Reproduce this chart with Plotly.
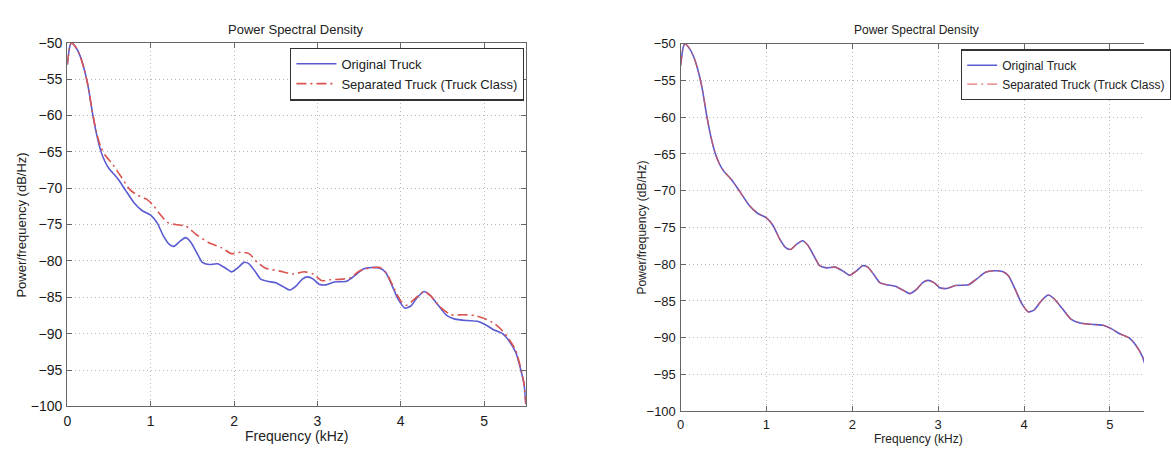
import plotly.graph_objects as go

# ---------------- data ----------------
freq_orig = [0.00, 0.03, 0.05, 0.10, 0.15, 0.20, 0.25, 0.30, 0.35, 0.40, 0.45, 0.50,
             0.60, 0.70, 0.80, 0.90, 1.00, 1.08, 1.15, 1.22, 1.28, 1.35, 1.42, 1.48,
             1.55, 1.62, 1.70, 1.80, 1.90, 1.97, 2.05, 2.12, 2.18, 2.25, 2.32, 2.40,
             2.50, 2.60, 2.67, 2.75, 2.82, 2.88, 2.95, 3.02, 3.10, 3.20, 3.35, 3.45,
             3.55, 3.65, 3.75, 3.82, 3.90, 3.97, 4.05, 4.12, 4.20, 4.28, 4.35, 4.45,
             4.55, 4.65, 4.80, 4.92, 5.02, 5.12, 5.22, 5.30, 5.38, 5.44, 5.48, 5.50]
psd_orig = [-53.0, -50.5, -50.0, -50.6, -51.7, -53.5, -56.0, -59.5, -62.5, -64.8, -66.3, -67.3,
            -68.6, -70.3, -72.0, -73.1, -73.7, -74.8, -76.5, -77.7, -78.0, -77.3, -76.8, -77.4,
            -78.8, -80.2, -80.5, -80.4, -81.0, -81.5, -80.9, -80.2, -80.4, -81.4, -82.5, -82.8,
            -83.0, -83.6, -84.0, -83.4, -82.5, -82.2, -82.5, -83.2, -83.3, -82.9, -82.8, -82.0,
            -81.1, -80.9, -81.0, -81.6, -83.5, -85.3, -86.5, -86.2, -85.0, -84.2, -84.7, -86.1,
            -87.5, -88.0, -88.2, -88.3, -88.8, -89.5, -90.0, -91.0, -92.6, -95.0, -97.0, -99.7]

freq_sep = [0.00, 0.03, 0.05, 0.10, 0.15, 0.20, 0.25, 0.30, 0.35, 0.40, 0.45, 0.55,
            0.65, 0.75, 0.85, 0.95, 1.02, 1.10, 1.20, 1.30, 1.42, 1.55, 1.70, 1.85,
            1.97, 2.08, 2.18, 2.28, 2.38, 2.55, 2.70, 2.85, 2.95, 3.05, 3.15, 3.30,
            3.40, 3.50, 3.62, 3.75, 3.83, 3.92, 4.00, 4.07, 4.15, 4.28, 4.36, 4.47,
            4.60, 4.75, 4.88, 5.00, 5.12, 5.22, 5.30, 5.38, 5.44, 5.48, 5.50]
psd_sep = [-53.0, -50.5, -50.0, -50.6, -51.7, -53.5, -56.0, -59.5, -62.3, -64.3, -65.4, -66.8,
           -68.5, -70.2, -71.0, -71.5, -72.2, -73.4, -74.7, -75.0, -75.2, -76.4, -77.5, -78.2,
           -79.0, -78.8, -79.0, -80.2, -81.0, -81.4, -81.8, -81.5, -81.8, -82.7, -82.6, -82.5,
           -82.3, -81.4, -81.0, -80.9, -81.7, -83.8, -85.5, -86.1, -85.4, -84.2, -84.8, -86.3,
           -87.4, -87.4, -87.5, -87.9, -88.6, -89.6, -90.8, -92.3, -94.8, -97.0, -99.7]

# right panel: separated curve coincides with the original
freq_right = freq_orig
psd_right_orig = psd_orig
psd_right_sep = psd_orig

series_names = ["Original Truck", "Separated Truck (Truck Class)"]
x_ticks = [0, 1, 2, 3, 4, 5]
y_ticks = [-100, -95, -90, -85, -80, -75, -70, -65, -60, -55, -50]

BLUE = "#5a5ad2"
RED = "#d9544f"
FONT = "Liberation Sans, Arial, Helvetica, sans-serif"
W, H = 1171, 452

fig = go.Figure()

# left panel
fig.add_trace(go.Scatter(x=freq_orig, y=psd_orig, mode="lines", name=series_names[0],
                         line=dict(color=BLUE, width=1.6, shape="spline", smoothing=0.6),
                         xaxis="x", yaxis="y", legend="legend"))
fig.add_trace(go.Scatter(x=freq_sep, y=psd_sep, mode="lines", name=series_names[1],
                         line=dict(color=RED, width=1.6, dash="10px,4px,2px,4px",
                                   shape="spline", smoothing=0.6),
                         xaxis="x", yaxis="y", legend="legend"))
# right panel
fig.add_trace(go.Scatter(x=freq_right, y=psd_right_orig, mode="lines", name=series_names[0],
                         line=dict(color=BLUE, width=1.6, shape="spline", smoothing=0.6),
                         xaxis="x2", yaxis="y2", legend="legend2"))
fig.add_trace(go.Scatter(x=freq_right, y=psd_right_sep, mode="lines", name=series_names[1],
                         line=dict(color=RED, width=1.2, dash="10px,4px,2px,4px",
                                   shape="spline", smoothing=0.6),
                         xaxis="x2", yaxis="y2", legend="legend2", opacity=0.8))

def px_x(p):
    return p / W

def px_y(p):
    return 1 - p / H

axis_common = dict(showline=True, linecolor="#666666", linewidth=1.3,
                   ticks="inside", ticklen=5, tickcolor="#666666",
                   showgrid=True, gridcolor="#b8b8b8", griddash="1px,3px", gridwidth=1.2,
                   zeroline=False, color="#1a1a1a")

# left axes: x0 at 65 px, 5.5 at 536 px; y top 36, bottom 413
fig.update_layout(
    xaxis=dict(axis_common, domain=[px_x(65), px_x(536)], range=[0, 5.5],
               tickvals=x_ticks, mirror="ticks", anchor="y", ticklabelstandoff=2,
               tickfont=dict(size=14, family=FONT)),
    yaxis=dict(axis_common, domain=[px_y(413), px_y(36)], range=[-100, -50],
               tickvals=y_ticks, mirror="ticks", anchor="x", ticklabelstandoff=1,
               tickfont=dict(size=14, family=FONT)),
    # right axes: x0 at 695 px, 88.2 px per kHz; y top 37, bottom 418
    xaxis2=dict(axis_common, domain=[px_x(695), 1.0], range=[0, (W - 695) / 88.2],
                tickvals=x_ticks, mirror="ticks", anchor="y2", ticklabelstandoff=1,
                tickfont=dict(size=13, family=FONT)),
    yaxis2=dict(axis_common, domain=[px_y(418), px_y(37)], range=[-100, -50],
                tickvals=y_ticks, mirror=False, anchor="x2", ticklabelstandoff=1,
                tickfont=dict(size=13, family=FONT)),
)

fig.update_layout(
    width=W, height=H,
    margin=dict(l=0, r=0, t=0, b=0),
    paper_bgcolor="white", plot_bgcolor="white",
    font=dict(family=FONT, color="#222", size=12),
    legend=dict(x=px_x(294), y=px_y(41), xanchor="left", yanchor="top",
                bgcolor="white", bordercolor="#333", borderwidth=1.2,
                font=dict(size=13, family=FONT), tracegroupgap=0,
                itemwidth=40, traceorder="normal"),
    legend2=dict(x=px_x(983), y=px_y(43), xanchor="left", yanchor="top",
                 bgcolor="white", bordercolor="#333", borderwidth=1.2,
                 font=dict(size=12, family=FONT), tracegroupgap=0,
                 itemwidth=30, traceorder="normal"),
    annotations=[
        dict(text="Power Spectral Density", x=px_x(300), y=px_y(22), xref="paper", yref="paper",
             showarrow=False, font=dict(size=13, family=FONT), xanchor="center", yanchor="middle"),
        dict(text="Frequency (kHz)", x=px_x(300), y=px_y(444), xref="paper", yref="paper",
             showarrow=False, font=dict(size=14, family=FONT), xanchor="center", yanchor="middle"),
        dict(text="Power/frequency (dB/Hz)", x=px_x(17), y=px_y(225), xref="paper", yref="paper",
             showarrow=False, font=dict(size=13, family=FONT), textangle=-90,
             xanchor="center", yanchor="middle"),
        dict(text="Power Spectral Density", x=px_x(937), y=px_y(23), xref="paper", yref="paper",
             showarrow=False, font=dict(size=12, family=FONT), xanchor="center", yanchor="middle"),
        dict(text="Frequency (kHz)", x=px_x(939), y=px_y(444), xref="paper", yref="paper",
             showarrow=False, font=dict(size=12, family=FONT), xanchor="center", yanchor="top",
             yshift=0),
        dict(text="Power/frequency (dB/Hz)", x=px_x(655), y=px_y(228), xref="paper", yref="paper",
             showarrow=False, font=dict(size=12, family=FONT), textangle=-90,
             xanchor="center", yanchor="middle"),
    ],
)

# right x-label sits just under the tick labels (partly cut by the page edge, as in the reference)
fig.layout.annotations[4].update(y=px_y(438))

fig.write_html("out.html")
